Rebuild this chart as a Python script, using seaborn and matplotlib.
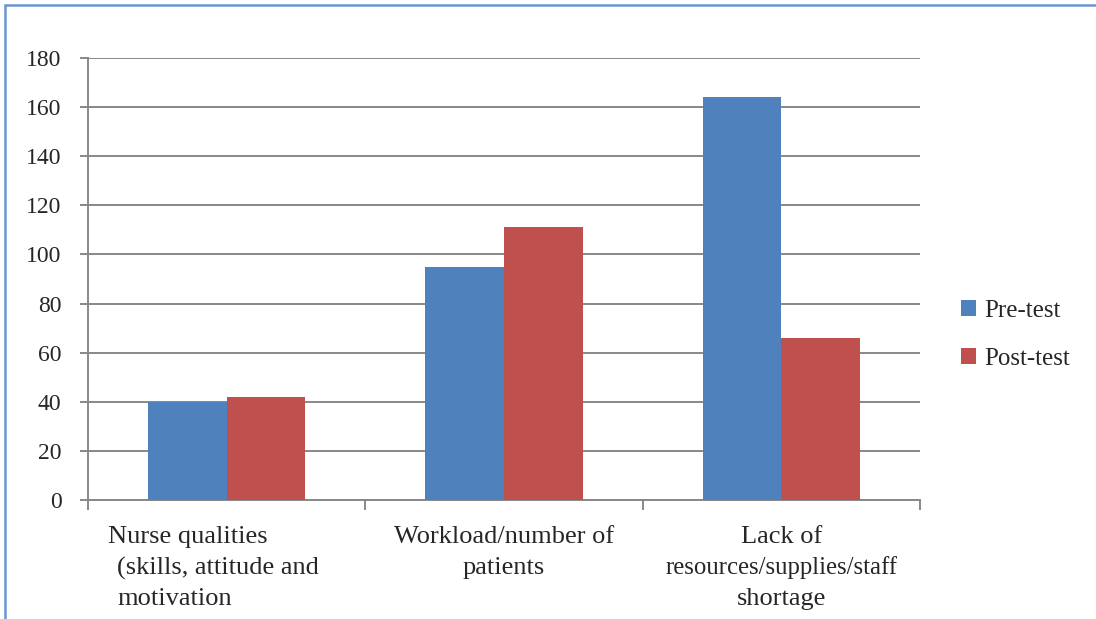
import numpy as np
import pandas as pd
import matplotlib
matplotlib.use('Agg')
import matplotlib.pyplot as plt
import matplotlib.transforms as mtransforms
from matplotlib.patches import Rectangle
import seaborn as sns

# data
categorias = ['Nurse qualities', 'Workload', 'Lack of resources']
pre_test = [40, 95, 164]
post_test = [42, 111, 66]
series = ['Pre-test', 'Post-test']
yticks = [0, 20, 40, 60, 80, 100, 120, 140, 160, 180]

df = pd.DataFrame({
    'cat': categorias * 2,
    'valor': pre_test + post_test,
    'grupo': [series[0]] * 3 + [series[1]] * 3,
})

sns.set_style('white')
plt.rcParams['font.family'] = ['Liberation Serif', 'DejaVu Serif']

fig = plt.figure(figsize=(10.96, 6.19), dpi=100)
ax = fig.add_axes([88 / 1096, 1 - 500 / 619, 832 / 1096, 442 / 619])

cores = ['#4F81BD', '#C0504D']
sns.barplot(data=df, x='cat', y='valor', hue='grupo', order=categorias,
            hue_order=series, palette=cores, width=0.567, gap=0,
            edgecolor='none', linewidth=0, saturation=1, ax=ax, zorder=3)

ax.set_xlim(-0.5, 2.5)
ax.set_ylim(0, 180)
ax.set_yticks(yticks)
ax.set_yticklabels([str(v) for v in yticks], fontsize=17)
ax.yaxis.grid(True, color='#888888', linewidth=1.4, zorder=0)
ax.set_axisbelow(True)
ax.tick_params(axis='y', length=6, width=1.4, color='#888888', pad=13, left=True)

# ticks between categories
ax.set_xticks([0, 1, 2])
ax.set_xticklabels(['', '', ''])
ax.tick_params(axis='x', which='major', length=0)
ax.set_xticks([-0.5, 0.5, 1.5, 2.5], minor=True)
ax.tick_params(axis='x', which='minor', length=7, width=1.4, color='#888888', bottom=True)

ax.set_xlabel('')
ax.set_ylabel('')
for lado in ['top', 'right']:
    ax.spines[lado].set_visible(False)
for lado in ['left', 'bottom']:
    ax.spines[lado].set_color('#888888')
    ax.spines[lado].set_linewidth(1.4)

# category labels, line by line like the original
trans = mtransforms.blended_transform_factory(ax.transData, fig.transFigure)
linhas_y = [1 - 537 / 619, 1 - 568 / 619, 1 - 599 / 619]
ax.text(-0.428, linhas_y[0], 'Nurse qualities', transform=trans, fontsize=19, ha='left', va='center')
ax.text(-0.395, linhas_y[1], '(skills, attitude and', transform=trans, fontsize=19, ha='left', va='center')
ax.text(-0.395, linhas_y[2], 'motivation', transform=trans, fontsize=19, ha='left', va='center')
ax.text(1, linhas_y[0], 'Workload/number of', transform=trans, fontsize=19, ha='center', va='center')
ax.text(1, linhas_y[1], 'patients', transform=trans, fontsize=19, ha='center', va='center')
ax.text(2, linhas_y[0], 'Lack of', transform=trans, fontsize=19, ha='center', va='center')
ax.text(2, linhas_y[1], 'resources/supplies/staff', transform=trans, fontsize=17.8, ha='center', va='center')
ax.text(2, linhas_y[2], 'shortage', transform=trans, fontsize=19, ha='center', va='center')

# legend at the right
handles, labels = ax.get_legend_handles_labels()
ax.legend_.remove()
fig.legend(handles, labels, loc='center left', bbox_to_anchor=(938 / 1096, 1 - 335 / 619),
           frameon=False, fontsize=18, handlelength=0.6, handleheight=0.6,
           handletextpad=0.35, labelspacing=1.05)

# blue frame around the picture
fig.patches.append(Rectangle((5 / 1096, -0.2), 2, 1.2 - 5 / 619, transform=fig.transFigure,
                             fill=False, edgecolor='#6C94D2', linewidth=1.8))

fig.savefig('out.png', dpi=100)
